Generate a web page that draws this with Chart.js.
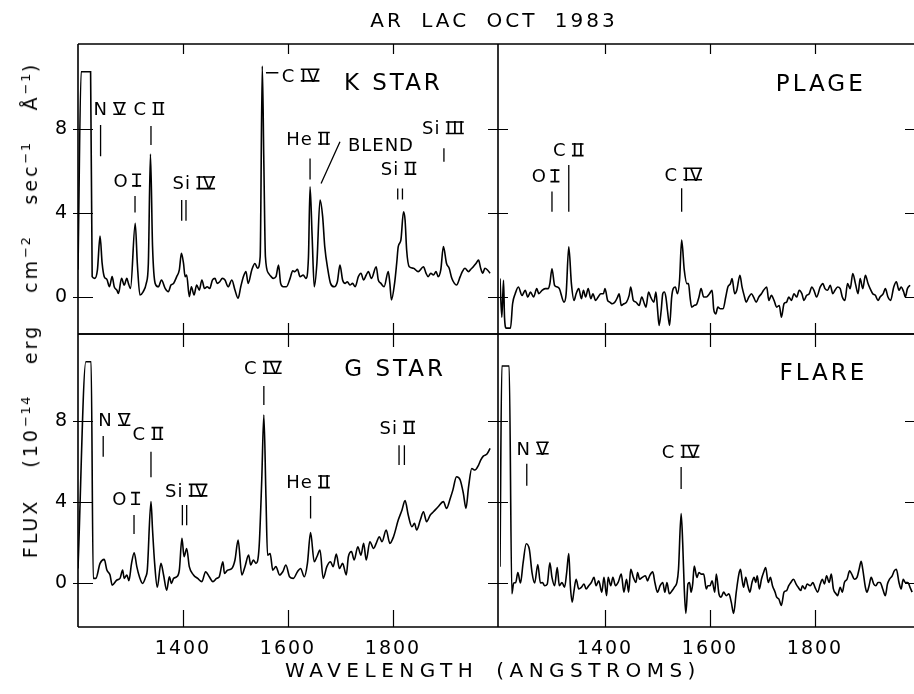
<!DOCTYPE html>
<html>
<head>
<meta charset="utf-8">
<script src="https://cdn.jsdelivr.net/npm/chart.js@4/dist/chart.umd.min.js"></script>
<style>
html,body{margin:0;padding:0;width:914px;height:694px;overflow:hidden;background:#fff;}
canvas{position:absolute;left:0;top:0;}
.t{position:absolute;font-family:"DejaVu Sans";color:#000;white-space:nowrap;}
#title{left:494px;top:8px;font-size:20px;line-height:24px;letter-spacing:3px;word-spacing:8px;transform:translateX(-50%);}
#xtitle{left:493px;top:658px;font-size:20px;line-height:24px;letter-spacing:5.5px;word-spacing:6px;transform:translateX(-50%);}
#ytitle{left:30px;top:310px;font-size:19px;line-height:22px;letter-spacing:3px;word-spacing:22px;transform:translate(-50%,-50%) rotate(-90deg);}
#ytitle sup{font-size:13px;vertical-align:7px;line-height:0;letter-spacing:1.5px;}
</style>
</head>
<body>
<canvas id="cTL" width="940" height="694"></canvas>
<canvas id="cTR" width="940" height="694"></canvas>
<canvas id="cBL" width="940" height="694"></canvas>
<canvas id="cBR" width="940" height="694"></canvas>
<div class="t" id="title">AR LAC OCT 1983</div>
<div class="t" id="xtitle">WAVELENGTH (ANGSTROMS)</div>
<div class="t" id="ytitle">FLUX (10<sup>−14</sup> erg cm<sup>−2</sup> sec<sup>−1</sup> Å<sup>−1</sup>)</div>
<script>
// ---- tick labels ----
const xTicks = [1400, 1600, 1800];
const yTicks = [0, 4, 8];

// ---- spectra: [wavelength (Å), flux (1e-14 erg cm-2 s-1 Å-1)] ----
const kStar = [[1200,1.3],[1206,10.73],[1224,10.73],[1227,0.97],[1232,0.89],[1237,1.29],[1242,2.9],[1246,1.6],[1250,0.97],[1255,0.84],[1260,0.49],[1265,0.97],[1269,0.49],[1274,0.33],[1277,0.17],[1283,0.89],[1288,0.57],[1293,0.89],[1296,0.65],[1300,0.41],[1309,3.51],[1313,1.6],[1318,0.1],[1324,0.25],[1330,0.65],[1334,1.6],[1338,6.81],[1342,2.4],[1347,0.65],[1353,0.49],[1359,0.81],[1366,0.41],[1372,0.25],[1377,0.57],[1382,0.65],[1388,0.97],[1393,1.29],[1397,2.08],[1401,1.6],[1404,0.97],[1407,1.05],[1412,0.02],[1416,0.49],[1421,0.1],[1426,0.57],[1431,0.33],[1436,0.81],[1441,0.41],[1446,0.49],[1451,0.41],[1456,0.81],[1461,0.89],[1465,0.65],[1470,0.73],[1475,0.89],[1480,0.81],[1486,0.49],[1493,0.81],[1499,0.33],[1505,-0.06],[1510,0.49],[1515,0.97],[1520,1.21],[1524,0.65],[1531,1.29],[1537,1.6],[1542,1.37],[1547,1.92],[1551,11.0],[1554,6.37],[1557,1.92],[1563,1.13],[1568,0.97],[1572,0.89],[1577,0.97],[1582,1.52],[1586,0.65],[1591,0.49],[1597,0.49],[1604,0.89],[1609,1.25],[1613,1.21],[1618,1.32],[1623,0.97],[1629,1.05],[1634,0.89],[1639,1.92],[1642,5.25],[1646,2.87],[1650,0.49],[1655,1.6],[1661,4.62],[1666,3.83],[1670,2.4],[1676,1.29],[1681,0.65],[1688,0.49],[1694,0.73],[1699,1.52],[1704,0.81],[1709,0.65],[1713,0.73],[1718,0.57],[1723,0.65],[1728,0.49],[1734,0.97],[1739,1.13],[1744,0.81],[1749,1.05],[1753,1.21],[1759,0.89],[1768,1.44],[1772,0.81],[1777,0.65],[1783,0.49],[1791,1.21],[1794,0.65],[1797,-0.14],[1803,0.65],[1807,1.6],[1810,2.4],[1815,2.71],[1820,4.06],[1823,3.67],[1826,2.24],[1831,1.44],[1839,1.37],[1848,1.21],[1858,1.44],[1863,1.13],[1867,0.97],[1872,1.13],[1877,1.05],[1882,1.21],[1886,0.97],[1891,1.29],[1896,2.4],[1902,1.6],[1907,1.37],[1912,0.89],[1917,0.65],[1921,0.57],[1928,0.97],[1932,1.21],[1937,1.37],[1944,1.21],[1948,1.32],[1953,1.44],[1958,1.6],[1963,1.76],[1967,1.37],[1971,1.13],[1975,1.37],[1980,1.29],[1985,1.13]];

const plage = [[1200,0.88],[1203.5,-0.96],[1206.7,0.8],[1208.6,-0.96],[1211.8,-1.48],[1220,-1.48],[1224,-0.32],[1229,0.16],[1235,0.48],[1242,0.08],[1248,0.32],[1253,0],[1258,0.24],[1264,0],[1270,0.4],[1274,0.16],[1280,0.32],[1286,0.4],[1292,0.4],[1295,0.64],[1299,1.35],[1304,0.56],[1309,0.48],[1313,0.4],[1322,-0.24],[1326,0.16],[1331,2.39],[1336,0.64],[1341,-0.16],[1345,0.16],[1350,0.4],[1355,-0.08],[1359,0.32],[1363,0],[1368,0.4],[1373,-0.08],[1377,0.16],[1382,-0.16],[1387,0],[1392,0.16],[1397,0.16],[1400,0.4],[1405,-0.16],[1409,-0.24],[1414,-0.32],[1419,-0.24],[1424,0],[1427,0.16],[1431,-0.4],[1436,-0.32],[1441,-0.24],[1446,0.08],[1449,0.48],[1454,-0.16],[1459,-0.24],[1465,-0.4],[1470,0],[1475,-0.32],[1478,-0.48],[1483,0.24],[1487,0],[1493,-0.24],[1497,0.24],[1500,-0.56],[1503,-1.35],[1507,-0.64],[1510,0.16],[1513,0.24],[1516,0],[1519,-0.64],[1523,-1.35],[1527,0],[1530,0.4],[1534,0.48],[1538,0.16],[1542,0.8],[1546,2.71],[1551,1.28],[1556,0.64],[1559,0.64],[1562,0],[1565,-0.48],[1570,-0.4],[1575,-0.32],[1579,0],[1583,0.4],[1588,0],[1593,0],[1599,0.16],[1604,0.32],[1607,-0.56],[1611,-0.8],[1615,-0.48],[1620,-0.56],[1625,-0.56],[1630,0],[1634,0.48],[1639,0.64],[1642,0.88],[1647,0.16],[1651,0.32],[1657,1.04],[1661,0.48],[1665,0.08],[1669,-0.24],[1674,0],[1679,0.16],[1683,0],[1688,-0.24],[1693,0],[1698,0.16],[1702,0.32],[1708,0.48],[1712,-0.16],[1717,0.08],[1722,-0.16],[1727,-0.48],[1732,-0.4],[1736,-0.96],[1741,-0.32],[1746,-0.24],[1750,0],[1755,-0.16],[1760,0.16],[1765,0],[1770,0.32],[1775,0.16],[1779,-0.16],[1784,0.08],[1789,0.16],[1794,0.48],[1798,0.32],[1803,0],[1810,0.48],[1815,0.64],[1819,0.4],[1824,0.32],[1829,0.56],[1834,0.16],[1838,0.32],[1843,0.48],[1848,0.4],[1852,0],[1857,-0.16],[1862,0.64],[1867,0.4],[1872,1.12],[1877,0.64],[1882,0.16],[1886,0.88],[1891,0.4],[1896,1.04],[1901,0.64],[1905,0.4],[1910,0.16],[1915,0.08],[1920,-0.16],[1924,0],[1930,0.16],[1934,0.4],[1939,0],[1944,-0.16],[1950,0.48],[1955,0.72],[1960,0.32],[1964,0.48],[1969,0.24],[1972,0],[1976,0.4],[1981,0.56]];

const gStar = [[1200,0.72],[1215,10.93],[1225,10.93],[1229,0.23],[1234,0.23],[1242,0.97],[1250,1.17],[1255,0.64],[1261,0.4],[1265,-0.1],[1274,0.15],[1280,0.23],[1285,0.64],[1288,0.23],[1293,0.4],[1297,0.12],[1302,0.97],[1307,1.5],[1312,0.81],[1317,0.31],[1323,-0.02],[1329,0.31],[1332,0.64],[1339,4.02],[1342,2.62],[1346,0.97],[1351,-0.21],[1358,0.97],[1363,0.4],[1369,-0.35],[1374,0.31],[1378,-0.02],[1382,0.23],[1388,0.31],[1393,0.64],[1398,2.21],[1402,1.3],[1407,1.71],[1412,0.81],[1420,0.4],[1428,0.23],[1436,0.07],[1443,0.56],[1450,0.31],[1457,0.07],[1464,0.23],[1469,0.31],[1476,1.05],[1479,0.48],[1485,0.64],[1493,0.72],[1499,1.14],[1505,2.12],[1512,0.4],[1518,0.81],[1525,1.38],[1529,0.89],[1534,1.14],[1539,0.97],[1545,1.79],[1550,5.09],[1554,8.3],[1558,4.26],[1561,1.38],[1566,1.46],[1571,0.64],[1577,0.81],[1584,0.4],[1590,0.56],[1596,0.89],[1603,0.31],[1610,0.23],[1618,0.56],[1624,0.72],[1631,0.31],[1637,0.97],[1643,2.49],[1650,1.05],[1655,1.3],[1661,1.63],[1667,0.23],[1674,0.81],[1681,1.05],[1686,0.81],[1692,1.43],[1698,0.72],[1704,0.97],[1711,0.4],[1715,1.3],[1721,1.55],[1726,1.14],[1733,1.79],[1739,1.38],[1744,1.96],[1749,1.14],[1756,2.04],[1763,1.71],[1768,1.96],[1774,2.29],[1779,2.04],[1787,2.62],[1794,1.96],[1801,2.29],[1810,3.11],[1817,3.6],[1823,4.07],[1829,3.36],[1836,2.78],[1841,2.95],[1845,2.62],[1852,3.11],[1858,3.52],[1864,3.03],[1871,3.36],[1877,3.52],[1886,3.77],[1896,4.02],[1902,3.69],[1909,4.18],[1914,4.59],[1921,5.25],[1928,5.09],[1934,4.43],[1939,3.69],[1944,4.76],[1950,5.66],[1956,5.58],[1963,5.83],[1967,6.07],[1972,6.27],[1979,6.37],[1985,6.65]];

const flare = [[1200,0.8],[1203.5,10.72],[1217.5,10.72],[1222.6,-0.53],[1226,0],[1230,0.03],[1234,0.52],[1239,0],[1244,1.0],[1250,1.94],[1256,1.65],[1261,0.52],[1266,0],[1272,0.92],[1277,0],[1281,0.03],[1285,-0.13],[1290,-0.05],[1295,1.0],[1299,0.28],[1304,-0.13],[1309,0.76],[1313,-0.13],[1318,0.03],[1323,-0.21],[1327,0.52],[1331,1.46],[1334,-0.13],[1337.5,-0.94],[1341,-0.37],[1345,0.19],[1350,-0.29],[1355,-0.21],[1360,-0.05],[1364,-0.29],[1369,-0.13],[1374,0.03],[1379,0.28],[1383,-0.13],[1388,0.11],[1394,-0.45],[1398,0.28],[1403,-0.62],[1406,0.28],[1411,-0.13],[1415,0.28],[1420,-0.13],[1425,0.03],[1431,0.44],[1436,-0.45],[1441,0.19],[1445,-0.45],[1449,0.68],[1454,0.28],[1459,0.03],[1462,0.52],[1466,0.19],[1471,0.28],[1477,0.36],[1481,0.11],[1485,0.36],[1491,0.55],[1495,0.03],[1500,-0.45],[1505,-0.13],[1510,0.03],[1514,-0.45],[1518,0.03],[1522.5,-0.53],[1528,-0.37],[1532,-0.21],[1537,0.03],[1540,0.68],[1545,3.43],[1548,1.98],[1551,-0.29],[1554,-1.5],[1558,-0.05],[1561,0.03],[1564,-0.45],[1567,-0.05],[1570,0.84],[1575,0.28],[1579,0.52],[1583,0.44],[1588,0.44],[1593,-0.29],[1596,-0.13],[1600,-0.13],[1604,0.11],[1609,-0.45],[1612,0.44],[1617,-0.53],[1621,-0.7],[1626,-0.45],[1631,-0.62],[1636,-0.53],[1640.5,-0.94],[1645,-1.5],[1650,-0.45],[1655,0.44],[1658,0.68],[1661,0.19],[1664,-0.21],[1668,0.28],[1672,-0.13],[1676,-0.45],[1680,0.03],[1684,0.28],[1687,0.03],[1690,0.36],[1694,-0.29],[1698,0.19],[1702,0.52],[1706,0.76],[1711,0.03],[1715,0.28],[1719,-0.13],[1724,-0.45],[1727,-0.7],[1731,-0.78],[1736,-1.1],[1741,-0.45],[1746,-0.37],[1750,-0.13],[1754,0.03],[1759,0.19],[1764,-0.05],[1768,-0.21],[1773,-0.37],[1776,-0.13],[1781,-0.29],[1785,-0.05],[1791,-0.13],[1796,0.03],[1800,-0.21],[1805,-0.45],[1810,-0.05],[1814,0.19],[1818,-0.05],[1822,0.36],[1827,0.03],[1831,0.44],[1835,-0.29],[1840,-0.53],[1843,-0.62],[1848,-0.21],[1852,-0.45],[1856,0.03],[1861,0.19],[1866,0.6],[1870,0.44],[1875,0.19],[1880,0.28],[1884,0.68],[1888,1.08],[1891,0.68],[1896,-0.21],[1899,-0.45],[1903,-0.13],[1907,0.28],[1912,-0.05],[1916,-0.13],[1920,0.03],[1924,0.03],[1929,-0.29],[1934,-0.62],[1938,-0.05],[1942,0.19],[1947,0.36],[1951,0.6],[1955,0.68],[1960,0.03],[1964,-0.29],[1968,0.19],[1972,0.03],[1977,0.03],[1981,-0.21],[1985,-0.45]];

// ---- panel names and line identifications (data coordinates) ----
const panelNames = {cTL:'K STAR', cTR:'PLAGE', cBL:'G STAR', cBR:'FLARE'};
const ionLabels = {
  cTL: [['N','V',1261,8.98],['C','II',1336,8.98],['O','I',1293,5.57],['Si','IV',1421.6,5.44],['C','IV',1625,10.57],['He','II',1639,7.56],['BLEND','',1777,7.27],['Si','II',1811.5,6.13],['Si','III',1896,8.06]],
  cTR: [['C','II',1331,7.01],['O','I',1286,5.77],['C','IV',1550,5.86]],
  cBL: [['C','IV',1553,10.65],['N','V',1270,8.08],['C','II',1334,7.39],['O','I',1291,4.18],['Si','IV',1407,4.59],['He','II',1639,5.0],['Si','II',1809,7.69]],
  cBR: [['N','V',1263,6.67],['C','IV',1545,6.51]]
};
const ionMarks = {
  cTL: [[1243,8.19,1243,6.71],[1339,8.14,1339,7.24],[1308.6,4.81,1308.6,4.02],[1397.5,4.62,1397.5,3.63],[1405.7,4.62,1405.7,3.63],[1558,10.68,1581.6,10.68],[1642,6.6,1642,5.6],[1663,5.41,1699,7.4],[1809,5.17,1809,4.65],[1818,5.17,1818,4.65],[1897,7.08,1897,6.44]],
  cTR: [[1331,6.29,1331,4.06],[1299,5.02,1299,4.06],[1546,5.18,1546,4.06]],
  cBL: [[1554,9.73,1554,8.79],[1248,7.26,1248,6.24],[1339,6.49,1339,5.22],[1306.7,3.36,1306.7,2.42],[1398.8,3.85,1398.8,2.86],[1407,3.85,1407,2.86],[1643,4.3,1643,3.19],[1811.5,6.81,1811.5,5.83],[1821.7,6.81,1821.7,5.83]],
  cBR: [[1251,5.89,1251,4.81],[1545,5.73,1545,4.65]]
};
const namePos = {cTL:[1800.7,10.25], cTR:[1811,10.2], cBL:[1804,10.65], cBR:[1816,10.43]};

// ---- frame / tick style per panel ----
const frames = {
  cTL: {left:true, right:true, ext:0, xt:10, xb:11, yLin:15, yLout:5, yRin:10, yRout:10},
  cTR: {left:false, right:true, ext:2, xt:10, xb:11, yLin:0, yLout:0, yRin:15, yRout:0},
  cBL: {left:true, right:true, ext:0, xt:13, xb:17, yLin:15, yLout:5, yRin:10, yRout:10},
  cBR: {left:false, right:true, ext:2, xt:13, xb:17, yLin:0, yLout:0, yRin:15, yRout:0}
};

const FONT = '"DejaVu Sans"';
function drawIon(ctx, px, py, el, num, size) {
  ctx.font = size + 'px ' + FONT;
  ctx.letterSpacing = '1px';
  const cap = size * 0.73;
  const w1 = ctx.measureText(el).width;
  const gap = num ? size * 0.3 : 0;
  const w2 = num ? ctx.measureText(num).width : 0;
  const total = w1 + gap + w2;
  const sx = px - total / 2;
  const base = py + cap / 2;
  ctx.textAlign = 'left';
  ctx.textBaseline = 'alphabetic';
  ctx.fillText(el, sx, base);
  if (num) {
    const nx = sx + w1 + gap;
    ctx.fillText(num, nx, base);
    const bw = Math.max(w2 - 1, size * 0.5);
    const cx = nx + (w2 - 1) / 2;
    ctx.beginPath();
    ctx.lineWidth = 1.6;
    ctx.moveTo(cx - bw / 2, base - cap + 0.8); ctx.lineTo(cx + bw / 2, base - cap + 0.8);
    ctx.moveTo(cx - bw / 2, base - 0.8); ctx.lineTo(cx + bw / 2, base - 0.8);
    ctx.stroke();
  }
}

const panelPlugin = {
  id: 'panelDeco',
  beforeDraw(chart) { chart.ctx.letterSpacing = '2px'; },
  afterDraw(chart) {
    const id = chart.canvas.id;
    const f = frames[id];
    const {ctx, chartArea: a} = chart;
    const xs = chart.scales.x, ys = chart.scales.y;
    ctx.save();
    ctx.letterSpacing = '0px';
    ctx.strokeStyle = '#000';
    ctx.fillStyle = '#000';
    ctx.lineCap = 'butt';
    // frame
    ctx.lineWidth = 1.6;
    ctx.beginPath();
    ctx.moveTo(a.left - f.ext, a.top); ctx.lineTo(a.right, a.top);
    ctx.moveTo(a.left - f.ext, a.bottom); ctx.lineTo(a.right, a.bottom);
    if (f.left) { ctx.moveTo(a.left, a.top); ctx.lineTo(a.left, a.bottom); }
    if (f.right) { ctx.moveTo(a.right, a.top); ctx.lineTo(a.right, a.bottom); }
    ctx.stroke();
    // inward ticks
    ctx.lineWidth = 1.2;
    ctx.beginPath();
    for (const t of xs.ticks) {
      const px = Math.round(xs.getPixelForValue(t.value)) + 0.5;
      ctx.moveTo(px, a.top); ctx.lineTo(px, a.top + f.xt);
      ctx.moveTo(px, a.bottom); ctx.lineTo(px, a.bottom - f.xb);
    }
    for (const t of ys.ticks) {
      const py = Math.round(ys.getPixelForValue(t.value)) + 0.5;
      if (f.yLin || f.yLout) { ctx.moveTo(a.left - f.yLout, py); ctx.lineTo(a.left + f.yLin, py); }
      if (f.yRin || f.yRout) { ctx.moveTo(a.right - f.yRin, py); ctx.lineTo(a.right + f.yRout, py); }
    }
    ctx.stroke();
    // identification marks
    ctx.lineWidth = 1.3;
    ctx.beginPath();
    for (const m of ionMarks[id]) {
      ctx.moveTo(xs.getPixelForValue(m[0]), ys.getPixelForValue(m[1]));
      ctx.lineTo(xs.getPixelForValue(m[2]), ys.getPixelForValue(m[3]));
    }
    ctx.stroke();
    // ion labels
    for (const l of ionLabels[id]) {
      drawIon(ctx, xs.getPixelForValue(l[2]), ys.getPixelForValue(l[3]), l[0], l[1], 18);
    }
    // panel name
    const np = namePos[id];
    ctx.font = '23px ' + FONT;
    ctx.letterSpacing = '3px';
    ctx.textAlign = 'center';
    ctx.textBaseline = 'alphabetic';
    ctx.fillText(panelNames[id], xs.getPixelForValue(np[0]), ys.getPixelForValue(np[1]) + 23 * 0.73 / 2);
    ctx.restore();
  }
};

function makeChart(id, data, c) {
  new Chart(document.getElementById(id), {
    type: 'line',
    data: { datasets: [{ data: data.map(p => ({x: p[0], y: p[1]})), borderColor: '#000', borderWidth: 1.6,
      pointRadius: 0, fill: false, cubicInterpolationMode: 'monotone' }] },
    options: {
      responsive: false, animation: false, events: [],
      layout: { padding: c.padding },
      plugins: { legend: {display: false}, tooltip: {enabled: false}, title: {display: false} },
      scales: {
        x: {
          type: 'linear', min: 1200, max: 2000,
          grid: {display: false, drawTicks: false}, border: {display: false},
          afterBuildTicks: s => { s.ticks = xTicks.map(v => ({value: v})); },
          afterFit: s => { s.height = c.xh; },
          ticks: {display: c.xLabels, padding: 11, color: '#000', autoSkip: false, maxRotation: 0,
            font: {size: 19, family: 'DejaVu Sans'}, callback: v => String(v)}
        },
        y: {
          type: 'linear', min: c.ymin, max: c.ymax,
          grid: {display: false, drawTicks: false}, border: {display: false},
          afterBuildTicks: s => { s.ticks = yTicks.map(v => ({value: v})); },
          afterFit: s => { s.width = c.yw; },
          ticks: {display: c.yLabels, padding: 9, color: '#000', autoSkip: false,
            font: {size: 19, family: 'DejaVu Sans'}, callback: v => String(v)}
        }
      }
    },
    plugins: [panelPlugin]
  });
}

// canvas 940 x 694 ; panels: left 78-498, right 500-920 ; top 44-334, bottom 334-627
makeChart('cTL', kStar, {padding:{left:0, right:442, top:44, bottom:360}, yw:78, xh:0, xLabels:false, yLabels:true, ymin:-1.76, ymax:12.05});
makeChart('cTR', plage, {padding:{left:500, right:20, top:44, bottom:360}, yw:0, xh:0, xLabels:false, yLabels:false, ymin:-1.76, ymax:12.05});
makeChart('cBL', gStar, {padding:{left:0, right:442, top:334, bottom:0}, yw:78, xh:67, xLabels:true, yLabels:true, ymin:-2.17, ymax:12.3});
makeChart('cBR', flare, {padding:{left:500, right:20, top:334, bottom:0}, yw:0, xh:67, xLabels:true, yLabels:false, ymin:-2.17, ymax:12.3});
</script>
</body>
</html>
